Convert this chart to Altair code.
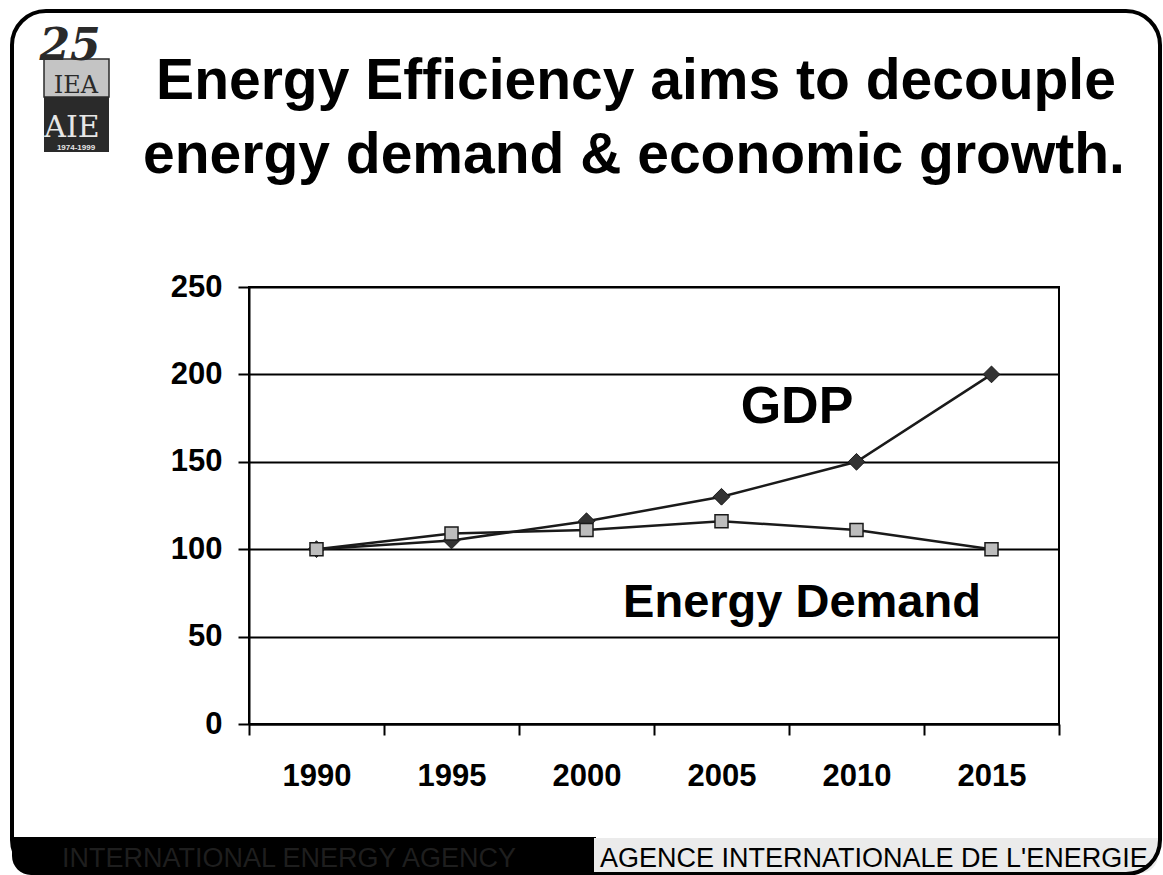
import altair as alt
import pandas as pd

# ---- data ----
years = ["1990", "1995", "2000", "2005", "2010", "2015"]
gdp = [100, 105, 116, 130, 150, 200]
energy_demand = [100, 109, 111, 116, 111, 100]
y_ticks = [0, 50, 100, 150, 200, 250]

title_lines = ["Energy Efficiency aims to decouple", "energy demand & economic growth."]
series_names = ["GDP", "Energy Demand"]
footer_left = "INTERNATIONAL ENERGY AGENCY"
footer_right = "AGENCE INTERNATIONALE DE L'ENERGIE"
logo_texts = ["25", "IEA", "AIE", "1974-1999"]

df = pd.DataFrame({
    "year": years * 2,
    "value": gdp + energy_demand,
    "series": [series_names[0]] * len(years) + [series_names[1]] * len(years),
})

# ---- page geometry (plot area origin on the page) ----
OX, OY = 249, 287
W, H = 810, 437
PAGE_W, PAGE_H = 1163, 875
FONT = "Liberation Sans"


def px(x):
    return x - OX


def py(y):
    return y - OY


one = pd.DataFrame({"k": [0]})


def box(x1, y1, x2, y2, **mark):
    return alt.Chart(one).mark_rect(**mark).encode(
        x=alt.value(px(x1)), x2=alt.value(px(x2)),
        y=alt.value(py(y1)), y2=alt.value(py(y2)),
    )


def label(txt, x, y, **mark):
    return alt.Chart(one).mark_text(**mark).encode(
        x=alt.value(px(x)), y=alt.value(py(y)), text=alt.value(txt)
    )


# ---- slide frame and footer ----
footer_dark = box(12, 837, 596, 875, fill="black", cornerRadiusBottomLeft=32)
footer_light = box(594, 838, 1158, 873, fill="#ebebeb", cornerRadiusBottomRight=22)
frame = box(12, 11, 1160, 874, fillOpacity=0, stroke="black", strokeWidth=4, cornerRadius=34)

footer_texts = [
    label(footer_left, 62, 867, font=FONT, fontSize=27, color="#1e1e1e", align="left", baseline="alphabetic"),
    label(footer_right, 600, 867, font=FONT, fontSize=27, color="black", align="left", baseline="alphabetic"),
]

# ---- logo ----
logo = [
    box(44, 59, 109, 97, fill="#c4c4c4", stroke="#2a2a2a", strokeWidth=1.5),
    box(44, 97, 109, 152, fill="#2a2a2a"),
    label(logo_texts[0], 70, 60, font="DejaVu Serif", fontSize=44, fontStyle="italic", fontWeight="bold",
          color="#2a2a2a", align="center", baseline="alphabetic"),
    label(logo_texts[1], 76, 93, font="DejaVu Serif", fontSize=24, color="#2a2a2a", align="center",
          baseline="alphabetic"),
    label(logo_texts[2], 72, 137, font="DejaVu Serif", fontSize=30, color="#e6e6e6", align="center",
          baseline="alphabetic"),
    label(logo_texts[3], 76, 150, font=FONT, fontSize=8, fontWeight="bold", color="#e6e6e6", align="center",
          baseline="alphabetic"),
]

# ---- title ----
title = [
    label(title_lines[0], 636, 99, font=FONT, fontSize=57, fontWeight="bold", color="black",
          align="center", baseline="alphabetic"),
    label(title_lines[1], 634, 173, font=FONT, fontSize=57, fontWeight="bold", color="black",
          align="center", baseline="alphabetic"),
]

# ---- chart ----
x_enc = alt.X(
    "year:O",
    sort=years,
    bandPosition=0.5,
    scale=alt.Scale(type="band", paddingInner=0, paddingOuter=0),
    axis=alt.Axis(
        title=None, labelAngle=0, tickBand="extent", tickSize=11, tickWidth=2, tickColor="black",
        domainColor="black", domainWidth=2, labelFont=FONT, labelFontSize=31, labelFontWeight="bold",
        labelColor="black", labelPadding=26, grid=False,
    ),
)
y_enc = alt.Y(
    "value:Q",
    scale=alt.Scale(domain=[0, 250], nice=False, zero=True),
    axis=alt.Axis(
        title=None, values=y_ticks, tickSize=11, tickWidth=2, tickColor="black",
        domainColor="black", domainWidth=2, grid=True, gridColor="black", gridWidth=2, gridOpacity=1,
        labelFont=FONT, labelFontSize=31, labelFontWeight="bold", labelColor="black", labelPadding=16,
    ),
)

base = alt.Chart(df).encode(x=x_enc, y=y_enc)

lines = base.mark_line(color="#1a1a1a", strokeWidth=2.5).encode(detail="series:N")
gdp_pts = base.transform_filter(alt.datum.series == series_names[0]).mark_point(
    shape="diamond", filled=True, fill="#333333", stroke="#1a1a1a", strokeWidth=1, size=280, opacity=1
)
demand_pts = base.transform_filter(alt.datum.series == series_names[1]).mark_point(
    shape="square", filled=True, fill="#bdbdbd", stroke="#1a1a1a", strokeWidth=1.5, size=170, opacity=1
)

annotations = [
    label(series_names[0], 797, 423, font=FONT, fontSize=52, fontWeight="bold", color="black",
          align="center", baseline="alphabetic"),
    label(series_names[1], 802, 617, font=FONT, fontSize=47, fontWeight="bold", color="black",
          align="center", baseline="alphabetic"),
]

chart = alt.layer(
    footer_dark, footer_light, frame, *footer_texts, *logo, *title,
    lines, gdp_pts, demand_pts, *annotations,
).properties(
    width=W,
    height=H,
    padding={"left": OX, "top": OY, "right": PAGE_W - OX - W, "bottom": PAGE_H - OY - H},
    autosize=alt.AutoSizeParams(type="none"),
    background="white",
).configure_view(stroke="black", strokeWidth=2)

chart.save("out.html", embed_options={"renderer": "svg", "actions": False})
